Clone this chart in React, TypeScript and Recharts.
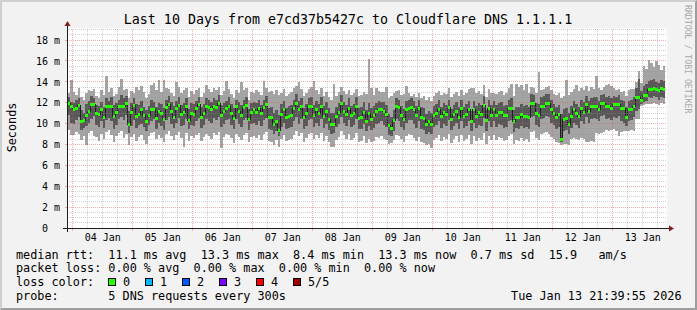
import React from 'react';
import { ComposedChart, Area, Line, XAxis, YAxis, ReferenceLine } from 'recharts';

const W = 697;
const H = 310;
const PLOT_LEFT = 67;
const PLOT_TOP = 28;
const PLOT_W = 600;
const PLOT_H = 200;
const X_AXIS_H = H - PLOT_TOP - PLOT_H;
const MARGIN = { top: PLOT_TOP, left: 0, right: W - PLOT_LEFT - PLOT_W, bottom: 0 };
// time axis in hours since 03 Jan 00:00 ; window = now - 10 days .. now (13 Jan 21:39:55)
const T_START = 21.665;
const T_END = 261.665;
const Y_MAX = 19.15;
const FIRST_HOUR = 21; // first hourly bucket: 03 Jan 21:00
const STEP_PX = PLOT_W / (T_END - T_START);

const MONO = '"DejaVu Sans Mono", "Liberation Mono", monospace';

// ---- tick labels ----
const DAY_LABELS = ['04 Jan', '05 Jan', '06 Jan', '07 Jan', '08 Jan', '09 Jan', '10 Jan', '11 Jan', '12 Jan', '13 Jan'];
const DAY_NOON_HOURS = [36, 60, 84, 108, 132, 156, 180, 204, 228, 252];
const MIDNIGHT_HOURS = [24, 48, 72, 96, 120, 144, 168, 192, 216, 240];
const Y_TICKS = [0, 2, 4, 6, 8, 10, 12, 14, 16, 18];

// ---- hourly series (ms), one row per day ----
const MEDIAN = [
  11.6, 11.9, 11.6,
  11.3, 11.4, 11.7, 10.2, 10.3, 10.8, 11.2, 11.8, 11.8, 11.0, 10.9, 11.3, 10.6, 11.6, 11.6, 11.6, 10.7, 11.1, 11.6, 11.6, 11.6, 11.9, 9.9, 11.1,
  11.7, 10.7, 10.9, 11.3, 10.8, 10.2, 10.8, 11.3, 11.3, 10.5, 11.2, 11.0, 10.4, 11.5, 11.8, 11.2, 10.6, 11.4, 11.7, 10.9, 11.1, 11.6, 10.3, 11.0,
  10.9, 11.4, 11.8, 10.6, 11.0, 11.6, 11.5, 11.3, 11.6, 11.5, 11.9, 10.8, 11.2, 11.4, 11.6, 11.0, 10.5, 11.6, 11.2, 10.8, 11.5, 11.7, 10.4, 11.1,
  11.3, 11.1, 11.4, 11.0, 11.5, 11.8, 10.6, 10.6, 9.9, 10.2, 9.3, 10.9, 11.3, 10.6, 10.7, 10.8, 11.4, 11.9, 11.3, 11.6, 10.6, 11.0, 11.6, 11.6,
  10.8, 11.3, 11.0, 11.6, 10.7, 11.2, 10.4, 9.9, 9.9, 10.7, 11.1, 11.9, 11.2, 10.9, 11.4, 10.8, 11.0, 11.6, 10.5, 10.6, 11.1, 10.2, 11.0, 10.4,
  10.8, 11.2, 11.3, 11.3, 11.2, 10.9, 9.8, 9.5, 10.3, 11.6, 11.5, 10.8, 10.4, 11.3, 11.4, 11.5, 11.3, 10.8, 11.4, 10.6, 10.5, 9.9, 10.2, 9.9,
  10.8, 11.0, 11.3, 10.7, 11.1, 10.9, 11.5, 10.4, 10.9, 11.2, 10.6, 11.4, 10.7, 10.9, 11.3, 10.2, 11.3, 10.7, 11.1, 10.9, 11.7, 10.3, 11.4, 10.8,
  11.3, 10.8, 11.1, 11.1, 10.8, 10.8, 11.4, 11.4, 10.2, 10.6, 10.6, 10.9, 10.7, 10.7, 10.6, 11.9, 11.9, 11.0, 10.8, 11.6, 11.6, 11.9, 11.9, 11.3,
  11.0, 10.6, 10.9, 8.5, 10.4, 10.5, 9.9, 10.7, 11.3, 11.0, 10.7, 11.4, 11.1, 11.8, 11.2, 11.6, 11.6, 11.6, 11.3, 11.9, 11.9, 11.6, 11.6, 11.4,
  11.8, 11.8, 11.8, 11.4, 11.4, 10.6, 11.3, 11.3, 11.6, 12.5, 12.5, 12.2, 12.7, 12.7, 13.3, 13.3, 13.4, 13.3, 13.2, 13.4, 13.3, 13.3,
];

const PING2 = [
  10.4, 10.8, 10.1,
  10.0, 10.3, 10.6, 9.4, 9.6, 9.8, 10.1, 10.4, 10.7, 9.9, 9.7, 10.2, 9.6, 10.3, 10.5, 10.2, 9.5, 9.9, 10.4, 10.6, 10.3, 10.8, 9.1, 9.8,
  10.3, 9.6, 9.9, 10.0, 9.7, 9.3, 9.9, 10.2, 10.4, 9.5, 10.1, 9.8, 9.4, 10.3, 10.6, 10.0, 9.6, 10.1, 10.5, 9.8, 9.9, 10.4, 9.5, 9.9,
  9.8, 10.2, 10.5, 9.6, 9.9, 10.4, 10.2, 10.1, 10.5, 10.3, 10.6, 9.7, 10.0, 10.3, 10.4, 9.9, 9.5, 10.4, 10.0, 9.7, 10.3, 10.5, 9.4, 10.0,
  10.1, 9.9, 10.2, 9.8, 10.3, 10.5, 9.5, 9.4, 9.0, 9.3, 8.8, 9.7, 10.1, 9.5, 9.6, 9.7, 10.2, 10.6, 10.0, 10.4, 9.5, 9.8, 10.3, 10.4,
  9.7, 10.1, 9.8, 10.4, 9.6, 10.0, 9.4, 9.0, 9.1, 9.7, 10.0, 10.6, 10.1, 9.8, 10.3, 9.7, 9.9, 10.4, 9.5, 9.5, 10.0, 9.3, 9.8, 9.4,
  9.6, 10.0, 10.1, 10.2, 9.9, 9.7, 8.9, 8.8, 9.3, 10.4, 10.2, 9.7, 9.4, 10.1, 10.3, 10.3, 10.0, 9.6, 10.2, 9.5, 9.4, 9.0, 9.2, 9.0,
  9.7, 9.9, 10.2, 9.6, 10.0, 9.8, 10.3, 9.4, 9.8, 10.1, 9.5, 10.2, 9.6, 9.8, 10.2, 9.3, 10.1, 9.6, 9.9, 9.8, 10.5, 9.3, 10.2, 9.7,
  10.2, 9.7, 10.0, 9.9, 9.6, 9.7, 10.2, 10.3, 9.2, 9.6, 9.5, 9.8, 9.6, 9.7, 9.5, 10.6, 10.7, 9.9, 9.7, 10.4, 10.5, 10.7, 10.6, 10.1,
  9.9, 9.5, 9.7, 8.2, 9.3, 9.4, 9.0, 9.6, 10.1, 9.9, 9.6, 10.2, 10.0, 10.6, 10.1, 10.4, 10.5, 10.4, 10.2, 10.7, 10.8, 10.4, 10.5, 10.3,
  10.6, 10.5, 10.7, 10.2, 10.1, 9.8, 10.2, 10.3, 10.6, 11.2, 11.4, 11.9, 12.1, 12.2, 12.5, 12.4, 12.6, 12.5, 12.3, 12.5, 12.4, 12.4,
];

const PING4 = [
  12.2, 12.5, 12.1,
  12.0, 12.3, 12.4, 11.3, 11.0, 11.9, 12.2, 12.6, 12.4, 11.8, 11.7, 12.1, 11.6, 12.4, 12.2, 12.5, 11.8, 12.0, 12.3, 12.7, 12.4, 12.6, 11.2, 12.0,
  12.4, 11.9, 11.8, 12.2, 11.6, 11.3, 11.7, 12.3, 12.1, 11.6, 12.0, 11.9, 11.5, 12.3, 12.6, 12.1, 11.7, 12.2, 12.5, 11.8, 12.0, 12.4, 11.4, 12.0,
  11.9, 12.2, 12.5, 11.6, 11.9, 12.4, 12.3, 12.1, 12.4, 12.3, 12.7, 11.8, 12.0, 12.2, 12.5, 11.9, 11.5, 12.3, 12.1, 11.8, 12.3, 12.5, 11.4, 12.0,
  12.1, 12.0, 12.3, 11.8, 12.3, 12.6, 11.5, 11.6, 11.0, 11.3, 10.8, 11.9, 12.2, 11.5, 11.7, 11.8, 12.3, 12.8, 12.2, 12.4, 11.5, 11.9, 12.4, 12.5,
  11.8, 12.2, 11.9, 12.5, 11.7, 12.1, 11.5, 11.0, 11.0, 11.6, 12.0, 12.7, 12.1, 11.8, 12.4, 11.7, 11.9, 12.5, 11.5, 11.6, 12.1, 11.3, 12.0, 11.5,
  11.7, 12.0, 12.2, 12.1, 12.1, 11.8, 10.9, 10.6, 11.3, 12.4, 12.3, 11.7, 11.4, 12.2, 12.3, 12.4, 12.2, 11.7, 12.3, 11.6, 11.5, 10.9, 11.2, 11.0,
  11.7, 11.9, 12.3, 11.6, 12.0, 11.8, 12.3, 11.4, 11.8, 12.1, 11.6, 12.3, 11.6, 11.9, 12.2, 11.2, 12.2, 11.7, 12.0, 11.8, 12.6, 11.3, 12.3, 11.8,
  12.2, 11.8, 12.0, 12.1, 11.7, 11.8, 12.3, 12.4, 11.3, 11.6, 11.6, 11.9, 11.7, 11.8, 11.6, 12.8, 12.7, 12.0, 11.9, 12.5, 12.6, 12.8, 12.8, 12.3,
  11.9, 11.6, 11.8, 10.9, 11.4, 11.5, 11.0, 11.7, 12.2, 11.9, 11.6, 12.3, 12.1, 12.6, 12.2, 12.4, 12.5, 12.5, 12.2, 12.7, 12.8, 12.5, 12.6, 12.4,
  12.6, 12.5, 12.7, 12.3, 12.2, 11.6, 12.2, 12.3, 12.5, 13.4, 14.3, 13.1, 13.6, 13.8, 14.1, 14.2, 14.3, 14.0, 13.9, 14.2, 14.1, 14.1,
];

const PING1 = [
  9.2, 9.4, 8.9,
  8.9, 9.2, 9.0, 8.4, 8.8, 7.9, 9.1, 9.3, 8.8, 8.7, 8.3, 9.0, 8.5, 9.2, 9.4, 8.9, 8.2, 8.8, 9.1, 9.3, 8.6, 9.0, 7.9, 8.7,
  9.0, 8.3, 8.7, 8.9, 8.4, 8.0, 8.8, 9.1, 9.2, 8.5, 8.9, 8.6, 8.2, 9.0, 9.3, 8.8, 8.4, 8.9, 9.2, 8.6, 7.8, 9.1, 8.3, 8.8,
  8.6, 8.9, 9.1, 8.3, 8.7, 9.0, 8.8, 8.5, 9.1, 8.9, 9.2, 7.7, 8.7, 9.0, 8.9, 8.6, 8.1, 9.0, 8.7, 8.4, 8.9, 9.1, 8.2, 8.7,
  8.8, 8.6, 8.9, 8.4, 9.0, 9.2, 8.3, 8.2, 7.9, 8.4, 7.8, 8.5, 8.9, 8.3, 8.4, 8.5, 8.9, 9.3, 8.8, 9.1, 8.2, 8.6, 9.0, 9.1,
  8.5, 8.9, 8.6, 9.1, 8.3, 8.8, 8.2, 7.8, 7.8, 8.4, 8.7, 9.3, 8.9, 8.5, 9.0, 8.4, 8.6, 9.1, 8.2, 8.3, 8.8, 8.1, 8.5, 8.2,
  8.3, 8.7, 8.6, 8.8, 8.5, 8.4, 8.0, 8.1, 8.4, 8.9, 8.8, 8.5, 8.2, 8.8, 9.0, 8.9, 8.6, 8.3, 8.7, 8.2, 8.1, 7.9, 8.0, 7.7,
  8.4, 8.6, 8.9, 8.3, 8.7, 8.5, 9.0, 8.1, 8.5, 8.8, 8.2, 8.9, 8.3, 8.5, 8.9, 8.0, 8.8, 8.3, 8.6, 8.4, 9.1, 8.0, 8.8, 8.4,
  8.9, 8.4, 8.7, 8.6, 8.3, 8.4, 8.8, 9.0, 8.0, 8.4, 8.3, 8.6, 8.3, 8.5, 8.2, 9.2, 9.3, 8.6, 8.4, 9.0, 9.1, 9.2, 9.0, 8.7,
  8.5, 8.2, 8.1, 7.9, 8.0, 8.0, 7.9, 8.5, 8.6, 8.5, 8.4, 8.6, 8.5, 8.2, 8.2, 8.3, 8.2, 9.1, 9.0, 9.1, 9.2, 9.4, 9.3, 9.4,
  9.5, 9.3, 8.8, 9.2, 9.3, 9.3, 9.3, 9.4, 9.3, 10.4, 10.4, 11.7, 11.8, 11.9, 11.9, 11.9, 12.0, 11.9, 11.8, 12.0, 11.9, 11.9,
];

const PING5 = [
  12.8, 12.9, 14.2,
  13.0, 12.7, 13.4, 12.5, 12.3, 12.9, 13.2, 13.1, 13.3, 12.6, 12.4, 13.2, 12.7, 14.6, 13.0, 13.4, 12.6, 12.8, 13.5, 14.3, 13.2, 13.3, 12.4, 13.1,
  12.9, 13.5, 13.2, 13.6, 13.0, 12.4, 12.8, 13.7, 13.9, 13.2, 14.2, 13.0, 14.2, 13.4, 13.3, 12.9, 12.6, 14.0, 13.5, 12.9, 13.2, 13.4, 12.5, 13.1,
  12.8, 13.2, 13.4, 12.5, 12.9, 13.7, 13.3, 13.0, 13.4, 13.2, 13.5, 12.7, 13.1, 14.1, 13.3, 12.8, 12.4, 13.2, 12.9, 14.0, 13.2, 13.4, 12.3, 13.0,
  12.9, 13.2, 13.0, 12.7, 14.1, 13.4, 13.0, 13.1, 12.8, 13.2, 12.7, 12.9, 13.3, 12.6, 12.8, 13.0, 13.4, 13.6, 14.0, 13.3, 12.6, 12.9, 13.3, 13.5,
  14.1, 13.2, 12.8, 13.4, 12.6, 13.0, 12.5, 12.3, 13.8, 12.6, 13.0, 13.5, 13.1, 12.8, 13.2, 12.7, 12.9, 13.3, 12.6, 12.7, 13.0, 12.8, 16.2, 13.4,
  12.7, 13.4, 13.1, 13.0, 13.0, 13.5, 12.4, 12.6, 12.9, 13.1, 13.2, 12.7, 12.8, 13.6, 12.9, 12.6, 12.8, 12.5, 12.9, 12.4, 12.6, 12.3, 12.5, 12.2,
  12.6, 12.9, 13.1, 12.7, 12.9, 12.8, 13.4, 12.5, 12.8, 13.0, 12.6, 13.2, 12.7, 12.9, 13.3, 13.4, 13.4, 12.9, 13.1, 12.8, 13.7, 12.5, 13.3, 12.9,
  12.9, 12.8, 13.0, 13.1, 12.7, 12.9, 13.4, 13.8, 12.6, 13.8, 13.5, 13.7, 13.2, 13.8, 12.9, 13.5, 13.4, 12.9, 14.9, 13.2, 13.3, 13.5, 13.6, 13.2,
  12.8, 12.7, 12.9, 12.4, 12.6, 14.2, 12.7, 13.0, 13.3, 13.7, 13.1, 13.4, 13.2, 13.6, 13.1, 13.5, 13.3, 14.6, 13.4, 13.2, 13.5, 13.7, 13.8, 13.6,
  13.4, 13.2, 13.3, 13.0, 13.1, 12.6, 13.2, 13.3, 13.3, 14.0, 15.0, 13.9, 15.5, 15.2, 16.1, 15.8, 15.4, 16.0, 15.6, 15.1, 15.5, 15.5,
];

// ---- legend ----
const LEGEND_RTT = 'median rtt:  11.1 ms avg  13.3 ms max  8.4 ms min  13.3 ms now  0.7 ms sd  15.9   am/s';
const LEGEND_LOSS = 'packet loss: 0.00 % avg  0.00 % max  0.00 % min  0.00 % now';
const LOSS_LABELS = ['0', '1', '2', '3', '4', '5/5'];
const LOSS_COLORS = ['#26ff00', '#00b8ff', '#0059ff', '#7e00ff', '#ff0000', '#a10000'];
const PROBE_TEXT = 'probe:       5 DNS requests every 300s';
const STAMP_TEXT = 'Tue Jan 13 21:39:55 2026';
const TITLE = 'Last 10 Days from e7cd37b5427c to Cloudflare DNS 1.1.1.1';

const rows = MEDIAN.map((m, i) => ({
  h: FIRST_HOUR + i,
  med: m,
  outer: [PING1[i], PING5[i]],
  inner: [PING2[i], PING4[i]],
}));

const X_TICKS = [...MIDNIGHT_HOURS, ...DAY_NOON_HOURS].sort((a, b) => a - b);
const MINOR_T: number[] = [];
for (let t = 24; t < T_END; t += 6) if (t % 24 !== 0) MINOR_T.push(t);
const MINOR_V: number[] = [];
for (let k = 1; k * 0.5 <= 19; k++) if (k % 4 !== 0) MINOR_V.push(k * 0.5);
const MAJOR_V = [2, 4, 6, 8, 10, 12, 14, 16, 18];

const GRID = 'rgba(143,143,143,0.42)';
const MGRID = 'rgba(222,79,79,0.45)';
const AXIS = '#1f1f1f';
const ARROW = '#801f1f';

const renderDash = (p: any) => {
  const { cx, cy, index } = p;
  if (cx == null || cy == null || index === MEDIAN.length - 1) return <g key={`d${index}`} />;
  return <rect key={`d${index}`} x={cx} y={cy - 1.5} width={STEP_PX} height={3} fill={LOSS_COLORS[0]} />;
};

const TimeTick = (p: any) => {
  const v = p.payload.value;
  const i = DAY_NOON_HOURS.indexOf(v);
  if (i < 0) {
    return <line x1={p.x} y1={p.y} x2={p.x} y2={p.y + 3} stroke={MGRID} />;
  }
  return (
    <text x={p.x} y={p.y + 13} textAnchor="middle" fontFamily={MONO} fontSize={10} fill="#000">
      {DAY_LABELS[i]}
    </text>
  );
};

const ValueTick = (p: any) => {
  const v = p.payload.value;
  const label = v === 0 ? '0' : `${v} m`;
  const dx = v === 0 ? -12.04 : 0;
  return (
    <text x={p.x + dx} y={p.y + 3.8} textAnchor="end" fontFamily={MONO} fontSize={10} fill="#000">
      {label}
    </text>
  );
};

const abs: React.CSSProperties = { position: 'absolute', left: 0, top: 0 };

export default function App() {
  const bottom = PLOT_TOP + PLOT_H;
  const right = PLOT_LEFT + PLOT_W;
  const rowsY = [258.5, 272.2, 285.9, 299.6];
  return (
    <div style={{ position: 'absolute', left: 0, top: 0, width: W, height: H, background: '#f2f2f2', overflow: 'hidden' }}>
      <div style={{ ...abs, left: PLOT_LEFT, top: PLOT_TOP, width: PLOT_W, height: PLOT_H, background: '#ffffff' }} />
      <div style={{ ...abs, shapeRendering: 'crispEdges' } as React.CSSProperties}>
        <ComposedChart width={W} height={H} data={rows} margin={MARGIN}>
          <XAxis dataKey="h" type="number" domain={[T_START, T_END]} allowDataOverflow height={X_AXIS_H}
            ticks={X_TICKS} interval={0} tickLine={false} axisLine={false} tickSize={0} tickMargin={0}
            tick={(p: any) => <TimeTick {...p} />} />
          <YAxis type="number" domain={[0, Y_MAX]} allowDataOverflow width={PLOT_LEFT}
            ticks={Y_TICKS} interval={0} tickSize={2} tickMargin={5} tickLine={{ stroke: MGRID }} axisLine={false}
            tick={(p: any) => <ValueTick {...p} />} />
          <Area type="stepAfter" dataKey="outer" stroke="none" fill="#a4a4a4" fillOpacity={1} isAnimationActive={false} dot={false} activeDot={false} />
          <Area type="stepAfter" dataKey="inner" stroke="none" fill="#585858" fillOpacity={1} isAnimationActive={false} dot={false} activeDot={false} />
          <Line type="stepAfter" dataKey="med" stroke="#202020" strokeWidth={1} dot={renderDash} activeDot={false} isAnimationActive={false} />
          {MINOR_T.map((t) => (
            <ReferenceLine key={`mt${t}`} x={t} stroke={GRID} strokeDasharray="1 1" />
          ))}
          {MINOR_V.map((v) => (
            <ReferenceLine key={`mv${v}`} y={v} stroke={GRID} strokeDasharray="1 1" />
          ))}
          {MIDNIGHT_HOURS.map((t) => (
            <ReferenceLine key={`Mt${t}`} x={t} stroke={MGRID} strokeDasharray="1 1" />
          ))}
          {MAJOR_V.map((v) => (
            <ReferenceLine key={`Mv${v}`} y={v} stroke={MGRID} strokeDasharray="1 1" />
          ))}
        </ComposedChart>
      </div>
      <svg width={W} height={H} style={abs}>
        <line x1={PLOT_LEFT - 4} y1={bottom + 0.5} x2={right + 4} y2={bottom + 0.5} stroke={AXIS} strokeWidth={1} />
        <line x1={PLOT_LEFT + 0.5} y1={bottom + 4} x2={PLOT_LEFT + 0.5} y2={PLOT_TOP - 4} stroke={AXIS} strokeWidth={1} />
        <polygon points={`${right + 2},${bottom - 2.5} ${right + 2},${bottom + 3.5} ${right + 7},${bottom + 0.5}`} fill={ARROW} />
        <polygon points={`${PLOT_LEFT - 2.5},${PLOT_TOP - 2} ${PLOT_LEFT + 3.5},${PLOT_TOP - 2} ${PLOT_LEFT + 0.5},${PLOT_TOP - 7}`} fill={ARROW} />

        <text x={348} y={24} textAnchor="middle" fontFamily={MONO} fontSize={13.3} fill="#000" style={{ whiteSpace: 'pre' }}>{TITLE}</text>
        <text x={15.5} y={127.5} textAnchor="middle" fontFamily={MONO} fontSize={11.8} fill="#000" transform="rotate(-90 15.5 127.5)">Seconds</text>
        <text x={685} y={5} fontFamily={MONO} fontSize={8.2} fill="#a8a8a8" transform="rotate(90 685 5)" style={{ whiteSpace: 'pre' }}>RRDTOOL / TOBI OETIKER</text>

        <text x={16} y={rowsY[0]} fontFamily={MONO} fontSize={11.8} fill="#000" style={{ whiteSpace: 'pre' }}>{LEGEND_RTT}</text>
        <text x={16} y={rowsY[1]} fontFamily={MONO} fontSize={11.8} fill="#000" style={{ whiteSpace: 'pre' }}>{LEGEND_LOSS}</text>
        <text x={16} y={rowsY[2]} fontFamily={MONO} fontSize={11.8} fill="#000" style={{ whiteSpace: 'pre' }}>loss color:</text>
        {LOSS_LABELS.map((lab, i) => (
          <g key={lab}>
            <rect x={108.5 + i * 37} y={278.5} width={7} height={7} fill={LOSS_COLORS[i]} stroke="#000" strokeWidth={1} />
            <text x={123 + i * 37} y={rowsY[2]} fontFamily={MONO} fontSize={11.8} fill="#000">{lab}</text>
          </g>
        ))}
        <text x={16} y={rowsY[3]} fontFamily={MONO} fontSize={11.8} fill="#000" style={{ whiteSpace: 'pre' }}>{PROBE_TEXT}</text>
        <text x={681.5} y={rowsY[3]} textAnchor="end" fontFamily={MONO} fontSize={11.8} fill="#000" style={{ whiteSpace: 'pre' }}>{STAMP_TEXT}</text>
      </svg>
      <div style={{ ...abs, width: W, height: H, boxSizing: 'border-box', borderTop: '2px solid #cfcfcf', borderLeft: '2px solid #cfcfcf', borderBottom: '2px solid #9e9e9e', borderRight: '2px solid #9e9e9e' }} />
    </div>
  );
}
